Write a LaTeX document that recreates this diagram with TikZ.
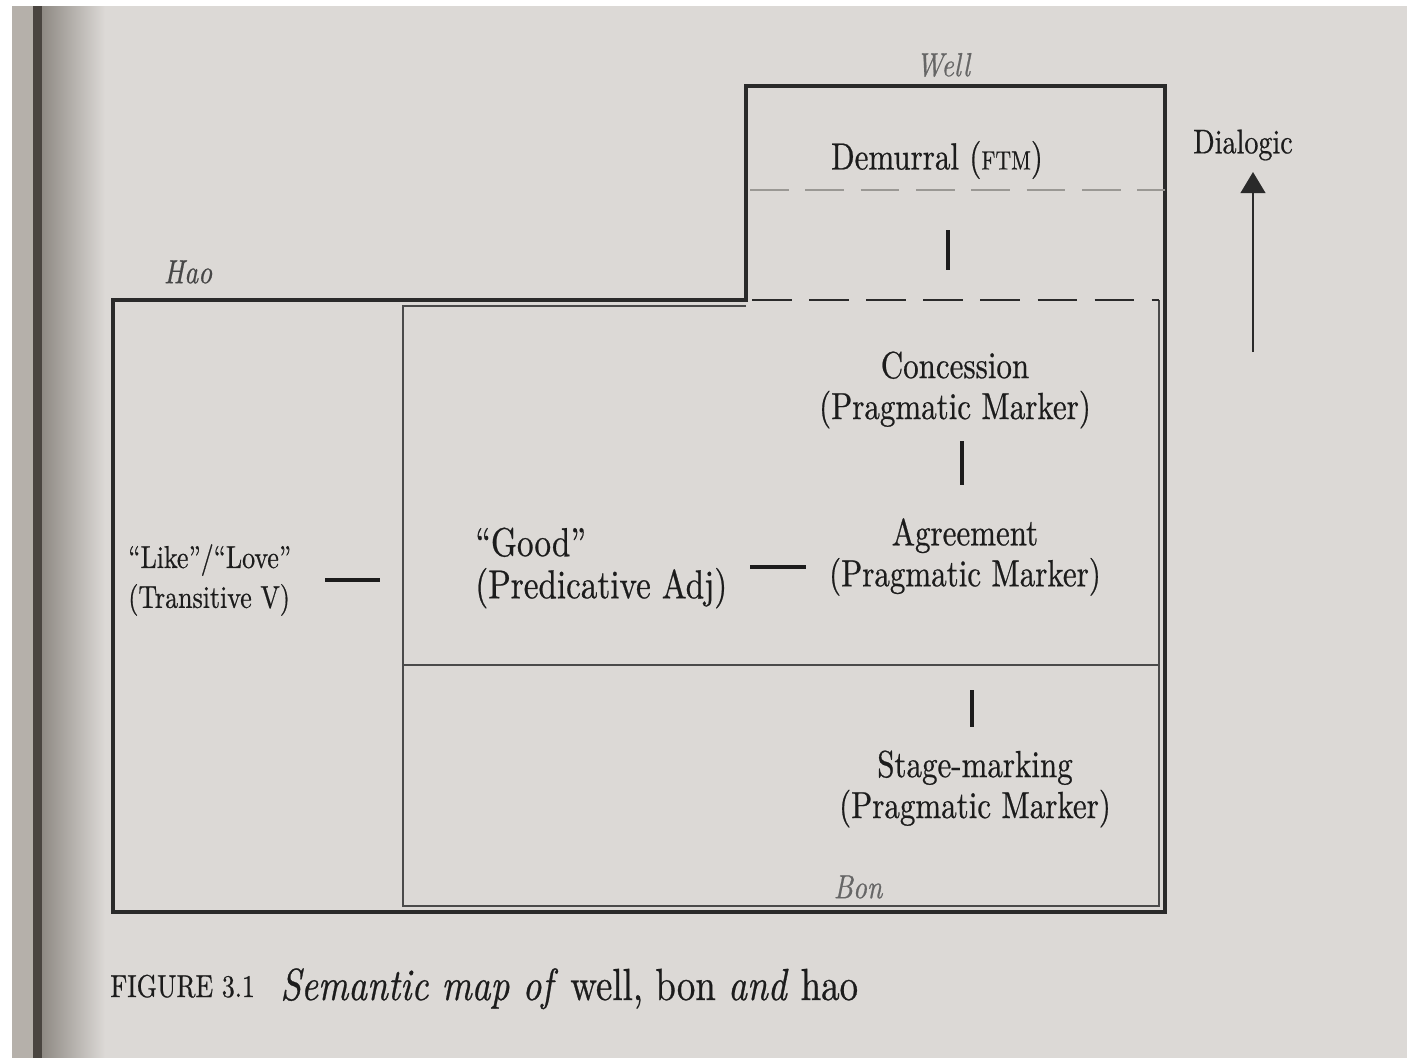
\documentclass[tikz,border=0pt]{standalone}
\usepackage{fontspec}
\setmainfont{lmroman10-regular.otf}[FakeStretch=0.82, FakeBold=0.6, ItalicFont=lmroman10-italic.otf, BoldFont=lmroman10-bold.otf]
\usetikzlibrary{arrows.meta}
\definecolor{paper}{HTML}{DCD9D6}
\definecolor{ink}{HTML}{1C1C1C}
\definecolor{frame}{HTML}{2A2A2A}
\definecolor{inner}{HTML}{4A4A4A}
\definecolor{greydash}{HTML}{9A9894}
\definecolor{lab}{HTML}{666666}
\definecolor{haolab}{HTML}{474747}
\definecolor{band}{HTML}{B5B0AA}
\definecolor{gutter}{HTML}{4A4540}
\definecolor{shadow}{HTML}{8F8A84}
\tikzset{
  lbl/.style={inner sep=0pt, align=center, text=ink, font=\fontsize{21.5}{23.3}\selectfont},
  regionlbl/.style={inner sep=0pt, text=lab, font=\fontsize{19}{21}\selectfont\itshape},
  outerframe/.style={draw=frame, line width=1.8pt, line join=miter},
  innerframe/.style={draw=inner, line width=1.5pt, line join=miter},
  conn/.style={draw=ink, line width=1.8pt},
  blackdash/.style={draw=frame, line width=1.7pt, dash pattern=on 22.5pt off 10pt},
  greydashed/.style={draw=greydash, line width=1.3pt, dash pattern=on 22pt off 9.5pt},
  arr/.style={draw=frame, line width=1.4pt, -{Triangle[length=12pt,width=14pt]}}
}
\begin{document}
\begin{tikzpicture}[x=0.02cm, y=-0.02cm]
\useasboundingbox (0,0) rectangle (1407,1058);
% page
\fill[white] (0,0) rectangle (1407,1058);
\fill[paper] (12,6) rectangle (1407,1058);
\fill[band] (12,6) rectangle (33,1058);
\fill[gutter] (33,6) rectangle (42,1058);
\shade[left color=shadow, right color=paper] (42,6) rectangle (105,1058);

% frames
\path[outerframe] (746,300) -- (113,300) -- (113,912) -- (1165,912) -- (1165,86) -- (746,86) -- cycle;
\path[innerframe] (746,306) -- (403,306) -- (403,906) -- (1159,906) -- (1159,300);
\path[innerframe] (403,665) -- (1159,665);
\coordinate (bdL) at (752,300);
\coordinate (bdR) at (1159,300);
\path[blackdash] (bdL) -- (bdR);
\coordinate (gdL) at (750,190);
\coordinate (gdR) at (1165,190);
\path[greydashed] (gdL) -- (gdR);

% region labels
\node[regionlbl] (well) at (943,65) {Well};
\node[regionlbl, text=haolab] (hao) at (188,272) {Hao};
\node[regionlbl] (bon) at (858,887) {Bon};

% labels
\node[lbl] (dem) at (937,160) {Demurral ({\fontsize{15}{17}\selectfont FTM})};
\node[lbl] (conc) at (955,390) {Concession\\(Pragmatic Marker)};
\node[lbl] (agr) at (965,557) {Agreement\\(Pragmatic Marker)};
\node[lbl] (stage) at (975,789) {Stage-marking\\(Pragmatic Marker)};
\node[lbl, align=left, anchor=west, font=\fontsize{23}{24}\selectfont] (good) at (475,568) {“Good”\\(Predicative Adj)};
\node[lbl, align=left, anchor=west, font=\fontsize{18}{22.7}\selectfont] (like) at (128,580) {“Like”/“Love”\\(Transitive V)};
\node[lbl, font=\fontsize{19.5}{21}\selectfont] (dialogic) at (1243,145) {Dialogic};

% connectors
\coordinate (c1a) at (948,230); \coordinate (c1b) at (948,270);
\draw[conn] (c1a) -- (c1b);
\coordinate (c2a) at (962,441); \coordinate (c2b) at (962,485);
\draw[conn] (c2a) -- (c2b);
\coordinate (c3a) at (972,690); \coordinate (c3b) at (972,727);
\draw[conn] (c3a) -- (c3b);
\coordinate (h1a) at (325,580); \coordinate (h1b) at (380,580);
\draw[conn] (h1a) -- (h1b);
\coordinate (h2a) at (750,567); \coordinate (h2b) at (806,567);
\draw[conn] (h2a) -- (h2b);

% dialogic arrow
\coordinate (arrbase) at (1253,352);
\coordinate (arrtip) at (1253,172);
\draw[arr] (arrbase) -- (arrtip);

% caption
\node[inner sep=0pt, anchor=base west, text=ink, font=\fontsize{18}{20}\selectfont] (capA) at (110,997) {FIGURE 3.1};
\node[inner sep=0pt, anchor=base west, text=ink, font=\fontsize{25.6}{27}\selectfont] (capB) at (280,1000) {\textit{Semantic map of} well, bon \textit{and} hao};
\end{tikzpicture}
\end{document}
